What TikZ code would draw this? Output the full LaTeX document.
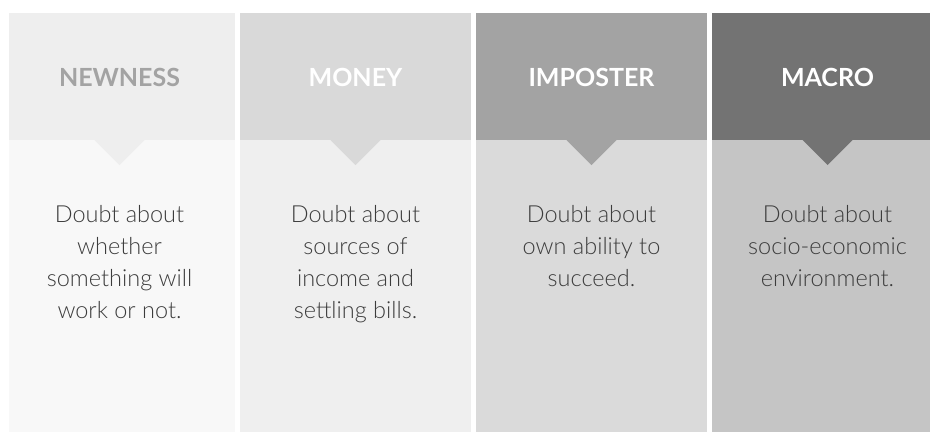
\documentclass[tikz,border=0pt]{standalone}
\usepackage{fontspec}
\setmainfont{Lato}
\newfontfamily\lightfont{Lato Light}

\definecolor{newhead}{HTML}{EEEEEE}
\definecolor{newbody}{HTML}{F8F8F8}
\definecolor{newtext}{HTML}{A3A3A3}
\definecolor{moneyhead}{HTML}{D9D9D9}
\definecolor{moneybody}{HTML}{EFEFEF}
\definecolor{imphead}{HTML}{A3A3A3}
\definecolor{impbody}{HTML}{DADADA}
\definecolor{macrohead}{HTML}{737373}
\definecolor{macrobody}{HTML}{C5C5C5}
\definecolor{bodytext}{HTML}{3C3C3C}

\begin{document}
\begin{tikzpicture}[x=1pt,y=-1pt,
  title/.style={font=\bfseries\fontsize{25}{25}\selectfont,text=white,anchor=base,inner sep=0pt},
  body/.style={font=\lightfont\fontsize{23.5}{32}\selectfont,text=bodytext,align=center,anchor=north,inner sep=0pt}]
  % bounding box
  \useasboundingbox (0,0) rectangle (930,432);
  \fill[white] (0,0) rectangle (930,432);
  % Column bodies
  \fill[newbody] (9,13) rectangle (235,432);
  \fill[moneybody] (240,13) rectangle (471,432);
  \fill[impbody] (476,13) rectangle (707,432);
  \fill[macrobody] (712,13) rectangle (930,432);
  % Headers with their pointers
  \fill[newhead] (9,13) rectangle (235,140);
  \fill[newhead] (94.5,140) -- (144.5,140) -- (119.5,165) -- cycle;
  \fill[moneyhead] (240,13) rectangle (471,140);
  \fill[moneyhead] (330.5,140) -- (380.5,140) -- (355.5,165) -- cycle;
  \fill[imphead] (476,13) rectangle (707,140);
  \fill[imphead] (566.5,140) -- (616.5,140) -- (591.5,165) -- cycle;
  \fill[macrohead] (712,13) rectangle (930,140);
  \fill[macrohead] (802.5,140) -- (852.5,140) -- (827.5,165) -- cycle;
  % Titles
  \node[title,text=newtext] (newness) at (119.5,86) {NEWNESS};
  \node[title] (money) at (355.5,86) {MONEY};
  \node[title] (imposter) at (591.5,86) {IMPOSTER};
  \node[title] (macro) at (827.5,86) {MACRO};
  % Descriptions
  \node[body] (newnessdoubt) at (119.5,205) {Doubt about\\whether\\something will\\work or not.};
  \node[body] (moneydoubt) at (355.5,205) {Doubt about\\sources of\\income and\\settling bills.};
  \node[body] (imposterdoubt) at (591.5,205) {Doubt about\\own ability to\\succeed.};
  \node[body] (macrodoubt) at (827.5,205) {Doubt about\\socio-economic\\environment.};
\end{tikzpicture}
\end{document}
